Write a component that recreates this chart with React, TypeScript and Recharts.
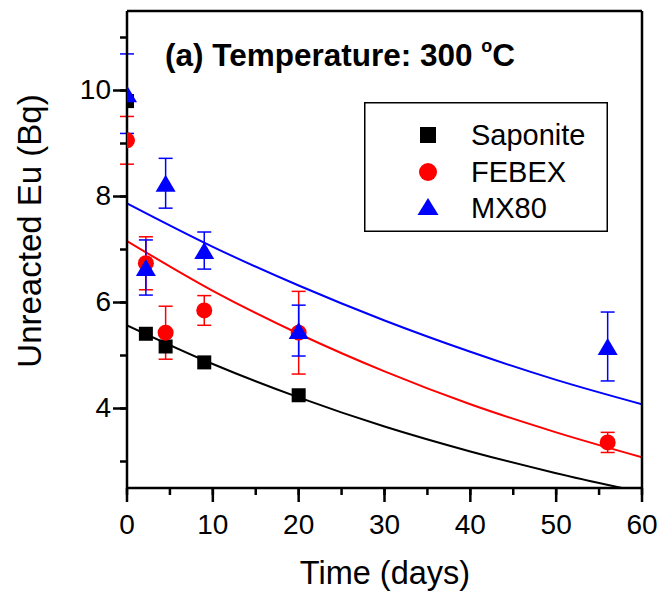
import React from 'react';
import { ComposedChart, Scatter, Line, XAxis, YAxis, ErrorBar, Legend, Customized } from 'recharts';

const FONT = '"Liberation Sans", Arial, Helvetica, sans-serif';

// Axis ticks
const xTicks = [0, 5, 10, 15, 20, 25, 30, 35, 40, 45, 50, 55, 60];
const xLabelTicks = [0, 10, 20, 30, 40, 50, 60];
const yTicks = [3, 4, 5, 6, 7, 8, 9, 10, 11];
const yLabelTicks = [4, 6, 8, 10];

// Measured data
const sapDays = [0, 2.2, 4.5, 9, 20];
const sapVals = [9.8, 5.41, 5.17, 4.87, 4.25];

const febDays = [0, 2.2, 4.5, 9, 20, 56];
const febVals = [9.06, 6.74, 5.43, 5.85, 5.43, 3.36];
const febErr = [0.45, 0.5, 0.5, 0.28, 0.78, 0.19];

const mxDays = [0, 2.2, 4.5, 9, 20, 56];
const mxVals = [9.94, 6.66, 8.25, 6.98, 5.47, 5.17];
const mxErr = [0.75, 0.52, 0.47, 0.35, 0.48, 0.65];

// Fitted curves
const fitDays = [0, 10, 20, 30, 40, 50, 60];
const sapFit = [5.57, 4.84, 4.21, 3.66, 3.19, 2.78, 2.42];
const febFit = [7.16, 6.22, 5.41, 4.7, 4.08, 3.55, 3.08];
const mxFit = [7.87, 7.05, 6.32, 5.66, 5.07, 4.54, 4.08];

const seriesNames = ['Saponite', 'FEBEX', 'MX80'];
const seriesColors = ['#000000', '#ff0000', '#0000ff'];

const sapData = sapDays.map((x, i) => ({ x, y: sapVals[i] }));
const febData = febDays.map((x, i) => ({ x, y: febVals[i], err: febErr[i] }));
const mxData = mxDays.map((x, i) => ({ x, y: mxVals[i], err: mxErr[i] }));
const sapFitData = fitDays.map((x, i) => ({ x, y: sapFit[i] }));
const febFitData = fitDays.map((x, i) => ({ x, y: febFit[i] }));
const mxFitData = fitDays.map((x, i) => ({ x, y: mxFit[i] }));

const MINOR = 7;
const MAJOR = 14;
const MARGIN = 4;

const SquareShape = (p: any) => (
  <rect x={p.cx - 7} y={p.cy - 7} width={14} height={14} fill="#000" />
);
const CircleShape = (p: any) => <circle cx={p.cx} cy={p.cy} r={8} fill="#ff0000" />;
const TriangleShape = (p: any) => (
  <polygon
    points={`${p.cx - 10},${p.cy + 8.5} ${p.cx + 10},${p.cy + 8.5} ${p.cx},${p.cy - 8.5}`}
    fill="#0000ff"
  />
);

const XTick = (props: any) => {
  const { x, y, payload } = props;
  const v = payload.value;
  const axisY = y - MINOR - MARGIN;
  if (!xLabelTicks.includes(v)) return <g />;
  return (
    <g>
      <line x1={x} x2={x} y1={axisY} y2={axisY + MAJOR} stroke="#000" strokeWidth={2.5} />
      <text x={x} y={axisY + 46} textAnchor="middle" fontSize={28} fontFamily={FONT} fill="#000">
        {v}
      </text>
    </g>
  );
};

const YTick = (props: any) => {
  const { x, y, payload } = props;
  const v = payload.value;
  const axisX = x + MINOR + MARGIN;
  if (!yLabelTicks.includes(v)) return <g />;
  return (
    <g>
      <line x1={axisX - MAJOR} x2={axisX} y1={y} y2={y} stroke="#000" strokeWidth={2.5} />
      <text x={axisX - 16} y={y} dy="0.32em" textAnchor="end" fontSize={28} fontFamily={FONT} fill="#000">
        {v}
      </text>
    </g>
  );
};

const LegendBox = () => (
  <svg width={244} height={130} style={{ display: 'block' }}>
    <rect x={0.75} y={0.75} width={242.5} height={128.5} fill="#fff" stroke="#000" strokeWidth={1.5} />
    <rect x={56} y={25} width={16} height={16} fill={seriesColors[0]} />
    <circle cx={64} cy={70} r={9} fill={seriesColors[1]} />
    <polygon points="53.5,113 74.5,113 64,96" fill={seriesColors[2]} />
    {seriesNames.map((n, i) => (
      <text key={n} x={107} y={43 + i * 36.5} fontSize={29} fontFamily={FONT} fill="#000">
        {n}
      </text>
    ))}
  </svg>
);

const Texts = () => (
  <g>
    <text x={165} y={66} fontSize={31.5} fontWeight="bold" fontFamily={FONT} fill="#000">
      (a) Temperature: 300{' '}
      <tspan fontSize={18} dy={-14}>o</tspan>
      <tspan dy={14}>C</tspan>
    </text>
    <text
      x={29}
      y={231}
      transform="rotate(-90 29 231)"
      textAnchor="middle"
      dominantBaseline="central"
      fontSize={33}
      fontFamily={FONT}
      fill="#000"
    >
      Unreacted Eu (Bq)
    </text>
    <text x={385} y={584} textAnchor="middle" fontSize={32.5} fontFamily={FONT} fill="#000">
      Time (days)
    </text>
  </g>
);

export default function App() {
  return (
    <div style={{ position: 'absolute', left: 0, top: 0, width: 661, height: 597, background: '#fff', fontFamily: FONT }}>
      <ComposedChart width={661} height={597} margin={{ top: 11, right: 19, bottom: 0, left: 0 }}>
        <XAxis
          dataKey="x"
          type="number"
          domain={[0, 60]}
          ticks={xTicks}
          allowDataOverflow
          height={109}
          tickSize={MINOR}
          tickMargin={MARGIN}
          tick={<XTick />}
          tickLine={{ stroke: '#000', strokeWidth: 2.5 }}
          axisLine={{ stroke: '#000', strokeWidth: 2.5 }}
          interval={0}
        />
        <XAxis
          xAxisId="top"
          orientation="top"
          type="number"
          domain={[0, 60]}
          ticks={xTicks}
          allowDataOverflow
          mirror
          tick={false}
          tickSize={3}
          tickLine={{ stroke: '#000', strokeWidth: 1 }}
          axisLine={{ stroke: '#000', strokeWidth: 2.5 }}
          interval={0}
        />
        <YAxis
          dataKey="y"
          type="number"
          domain={[2.5, 11.5]}
          ticks={yTicks}
          allowDataOverflow
          width={127}
          tickSize={MINOR}
          tickMargin={MARGIN}
          tick={<YTick />}
          tickLine={{ stroke: '#000', strokeWidth: 2.5 }}
          axisLine={{ stroke: '#000', strokeWidth: 2.5 }}
          interval={0}
        />
        <YAxis
          yAxisId="right"
          orientation="right"
          type="number"
          domain={[2.5, 11.5]}
          ticks={yTicks}
          allowDataOverflow
          mirror
          tick={false}
          tickSize={3}
          tickLine={{ stroke: '#000', strokeWidth: 1 }}
          axisLine={{ stroke: '#000', strokeWidth: 2.5 }}
          interval={0}
        />
        <Line data={sapFitData} dataKey="y" type="monotone" stroke="#000" strokeWidth={2} dot={false} isAnimationActive={false} />
        <Line data={febFitData} dataKey="y" type="monotone" stroke="#ff0000" strokeWidth={2} dot={false} isAnimationActive={false} />
        <Line data={mxFitData} dataKey="y" type="monotone" stroke="#0000ff" strokeWidth={2} dot={false} isAnimationActive={false} />
        <Scatter name="Saponite" data={sapData} dataKey="y" shape={<SquareShape />} isAnimationActive={false} />
        <Scatter name="FEBEX" data={febData} dataKey="y" shape={<CircleShape />} isAnimationActive={false}>
          <ErrorBar dataKey="err" direction="y" width={7} stroke="#ff0000" strokeWidth={1.5} />
        </Scatter>
        <Scatter name="MX80" data={mxData} dataKey="y" shape={<TriangleShape />} isAnimationActive={false}>
          <ErrorBar dataKey="err" direction="y" width={7} stroke="#0000ff" strokeWidth={1.5} />
        </Scatter>
        <Legend
          layout="vertical"
          align="center"
          verticalAlign="middle"
          content={() => <LegendBox />}
          wrapperStyle={{ left: 364, top: 102, width: 244, height: 130 }}
        />
        <Customized component={<Texts />} />
      </ComposedChart>
    </div>
  );
}
